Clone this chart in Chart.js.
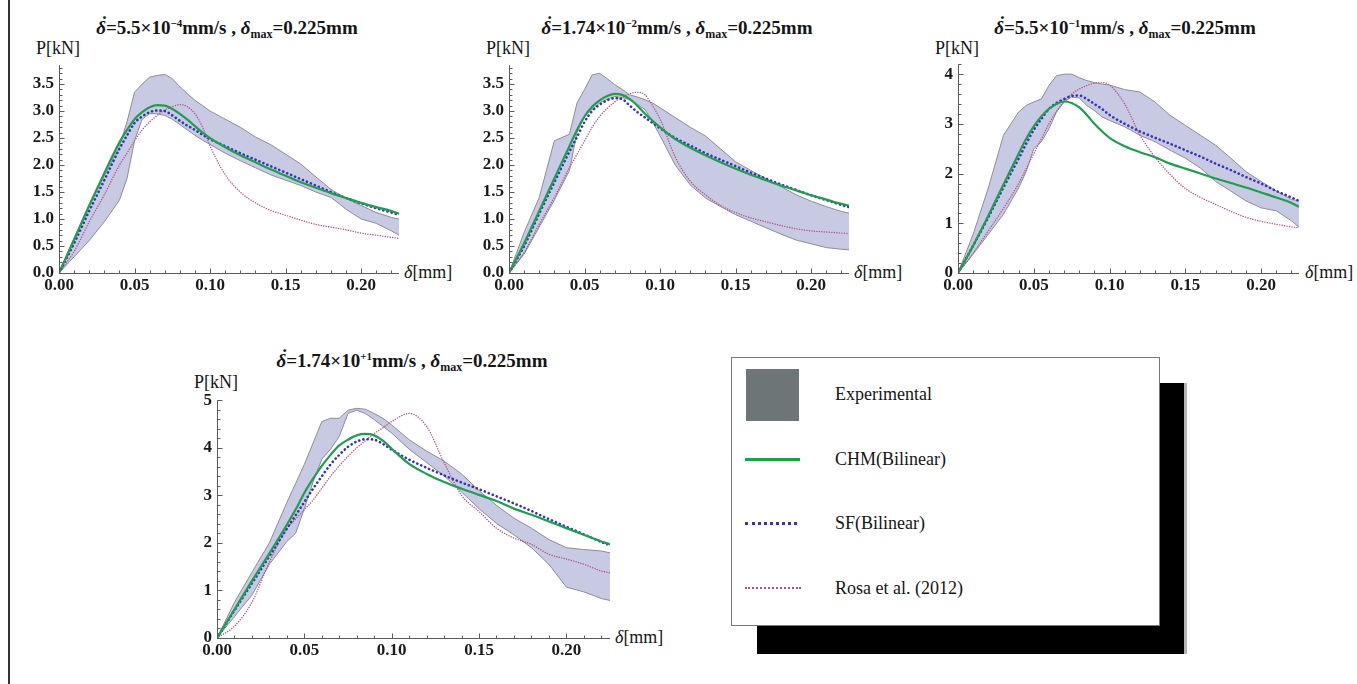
<!DOCTYPE html>
<html>
<head>
<meta charset="utf-8">
<script src="https://cdn.jsdelivr.net/npm/chart.js@4.4.1/dist/chart.umd.min.js"></script>
<style>
  body{margin:0;background:#fff;width:1357px;height:684px;overflow:hidden;position:relative;
       font-family:'Liberation Serif','Times New Roman',serif;color:#151515}
  canvas{position:absolute}
  .title{position:absolute;font-weight:bold;font-size:19px;white-space:nowrap;transform:translate(-50%,-50%);line-height:1}
  .title sup{font-size:11px;line-height:0;vertical-align:7px}
  .title sub{font-size:12px;line-height:0;vertical-align:-4px}
  .dd{position:relative;display:inline-block}
  .dd::after{content:'\02D9';position:absolute;left:5px;top:-5px;font-style:normal;font-weight:bold}
  .lab{position:absolute;font-size:18px;white-space:nowrap;transform:translateY(-50%);line-height:1}
  #edge{position:absolute;left:8px;top:0;width:2px;height:684px;background:#333}
  #shadow{position:absolute;left:757px;top:383px;width:427px;height:271px;background:#000;border-right:3px solid #b4b4b4}
  #legend{position:absolute;left:731px;top:357px;width:429px;height:269px;background:#fff;border:1px solid #777;box-sizing:border-box}
  .sw{position:absolute}
  .ltext{position:absolute;left:835px;font-size:18px;transform:translateY(-50%);white-space:nowrap}
</style>
</head>
<body>
<div id="edge"></div>

<div class="title" style="left:227px;top:27px"><i class="dd">δ</i>=5.5×10<sup>−4</sup>mm/s , <i>δ</i><sub>max</sub>=0.225mm</div>
<div class="title" style="left:677px;top:27px"><i class="dd">δ</i>=1.74×10<sup>−2</sup>mm/s , <i>δ</i><sub>max</sub>=0.225mm</div>
<div class="title" style="left:1125px;top:27px"><i class="dd">δ</i>=5.5×10<sup>−1</sup>mm/s , <i>δ</i><sub>max</sub>=0.225mm</div>
<div class="title" style="left:412px;top:360px"><i class="dd">δ</i>=1.74×10<sup>+1</sup>mm/s , <i>δ</i><sub>max</sub>=0.225mm</div>

<div class="lab" style="left:36px;top:48px">P[kN]</div>
<div class="lab" style="left:486px;top:48px">P[kN]</div>
<div class="lab" style="left:935px;top:48px">P[kN]</div>
<div class="lab" style="left:194px;top:382px">P[kN]</div>
<div class="lab" style="left:404px;top:272px"><i>δ</i>[mm]</div>
<div class="lab" style="left:854px;top:272px"><i>δ</i>[mm]</div>
<div class="lab" style="left:1305px;top:272px"><i>δ</i>[mm]</div>
<div class="lab" style="left:615px;top:637px"><i>δ</i>[mm]</div>

<div id="shadow"></div>
<div id="legend"></div>
<div class="sw" style="left:746px;top:369px;width:53px;height:52px;background:#6e7576"></div>
<div class="sw" style="left:745px;top:458px;width:55px;height:3px;background:#1f9e4f"></div>
<div class="sw" style="left:745px;top:522px;width:52px;border-top:3px dotted #3434b8"></div>
<div class="sw" style="left:745px;top:587px;width:56px;border-top:2px dotted #a8507f"></div>
<div class="ltext" style="top:394px">Experimental</div>
<div class="ltext" style="top:459px">CHM(Bilinear)</div>
<div class="ltext" style="top:523px">SF(Bilinear)</div>
<div class="ltext" style="top:588px">Rosa et al. (2012)</div>

<script>
// displacement samples [mm], shared by every panel
const X = [0, 0.01, 0.02, 0.03, 0.04, 0.045, 0.05, 0.055, 0.06, 0.065, 0.07, 0.075, 0.08, 0.085, 0.09, 0.095, 0.1,
           0.11, 0.12, 0.13, 0.14, 0.15, 0.16, 0.17, 0.18, 0.19, 0.2, 0.21, 0.22, 0.225];

// panel 1: 5.5e-4 mm/s  (load in kN)
const up1   = [0, 0.65, 1.25, 1.8, 2.35, 2.8, 3.35, 3.5, 3.63, 3.66, 3.68, 3.6, 3.45, 3.32, 3.2, 3.1, 3.0, 2.85, 2.7, 2.52, 2.38, 2.2, 2.02, 1.78, 1.55, 1.38, 1.25, 1.12, 1.03, 1.0];
const lo1   = [0, 0.3, 0.6, 0.95, 1.35, 1.75, 2.45, 2.85, 2.95, 2.95, 2.92, 2.85, 2.75, 2.65, 2.55, 2.46, 2.38, 2.22, 2.08, 1.95, 1.82, 1.72, 1.62, 1.5, 1.4, 1.18, 1.0, 0.92, 0.78, 0.7];
const chm1  = [0, 0.62, 1.25, 1.85, 2.42, 2.65, 2.85, 2.98, 3.07, 3.11, 3.1, 3.04, 2.95, 2.84, 2.72, 2.6, 2.5, 2.33, 2.18, 2.05, 1.92, 1.8, 1.68, 1.58, 1.48, 1.39, 1.3, 1.22, 1.15, 1.1];
const sf1   = [0, 0.55, 1.15, 1.72, 2.3, 2.55, 2.78, 2.9, 2.98, 3.01, 3.0, 2.92, 2.82, 2.73, 2.65, 2.56, 2.48, 2.35, 2.22, 2.1, 1.98, 1.86, 1.74, 1.62, 1.5, 1.39, 1.29, 1.2, 1.12, 1.08];
const rosa1 = [0, 0.4, 0.95, 1.45, 2.0, 2.22, 2.45, 2.65, 2.8, 2.92, 3.02, 3.08, 3.12, 3.08, 2.95, 2.7, 2.35, 1.82, 1.5, 1.3, 1.16, 1.07, 0.98, 0.9, 0.85, 0.8, 0.74, 0.7, 0.66, 0.64];

// panel 2: 1.74e-2 mm/s
const up2   = [0, 0.75, 1.4, 2.45, 2.57, 3.15, 3.4, 3.67, 3.7, 3.6, 3.49, 3.4, 3.3, 3.26, 3.21, 3.15, 3.06, 2.88, 2.7, 2.54, 2.3, 2.06, 1.9, 1.75, 1.6, 1.45, 1.33, 1.23, 1.14, 1.11];
const lo2   = [0, 0.35, 0.85, 1.35, 1.9, 2.6, 2.9, 3.03, 3.15, 3.22, 3.27, 3.25, 3.21, 3.12, 3.03, 2.8, 2.54, 2.0, 1.63, 1.39, 1.23, 1.08, 0.96, 0.84, 0.72, 0.61, 0.54, 0.47, 0.44, 0.43];
const chm2  = [0, 0.55, 1.15, 1.75, 2.35, 2.65, 2.9, 3.08, 3.2, 3.28, 3.32, 3.3, 3.22, 3.1, 2.95, 2.82, 2.7, 2.48, 2.32, 2.18, 2.05, 1.93, 1.82, 1.72, 1.62, 1.53, 1.44, 1.36, 1.28, 1.25];
const sf2   = [0, 0.5, 1.1, 1.68, 2.25, 2.52, 2.8, 3.0, 3.12, 3.2, 3.24, 3.22, 3.1, 2.98, 2.88, 2.78, 2.68, 2.5, 2.36, 2.22, 2.1, 1.98, 1.86, 1.75, 1.64, 1.54, 1.44, 1.35, 1.26, 1.22];
const rosa2 = [0, 0.38, 0.9, 1.4, 1.95, 2.2, 2.45, 2.7, 2.9, 3.05, 3.17, 3.26, 3.32, 3.35, 3.3, 3.1, 2.85, 2.15, 1.7, 1.45, 1.25, 1.12, 1.02, 0.95, 0.88, 0.82, 0.78, 0.76, 0.74, 0.73];

// panel 3: 5.5e-1 mm/s
const up3   = [0, 0.78, 1.71, 2.77, 3.24, 3.37, 3.44, 3.5, 3.77, 3.97, 4.0, 4.0, 3.93, 3.87, 3.83, 3.8, 3.78, 3.69, 3.64, 3.44, 3.17, 2.97, 2.77, 2.57, 2.31, 2.04, 1.84, 1.65, 1.48, 1.45];
const lo3   = [0, 0.38, 0.78, 1.18, 1.71, 2.04, 2.5, 2.64, 2.9, 3.24, 3.44, 3.54, 3.52, 3.37, 3.27, 3.14, 3.07, 2.94, 2.77, 2.64, 2.47, 2.31, 2.11, 1.84, 1.65, 1.45, 1.31, 1.25, 1.05, 0.92];
const chm3  = [0, 0.55, 1.15, 1.78, 2.4, 2.7, 2.95, 3.15, 3.3, 3.4, 3.45, 3.42, 3.33, 3.18, 3.0, 2.85, 2.72, 2.55, 2.43, 2.33, 2.2, 2.1, 2.0, 1.9, 1.81, 1.72, 1.62, 1.52, 1.41, 1.33];
const sf3   = [0, 0.55, 1.12, 1.72, 2.3, 2.6, 2.88, 3.1, 3.3, 3.42, 3.5, 3.56, 3.57, 3.5, 3.4, 3.3, 3.18, 3.0, 2.85, 2.72, 2.6, 2.47, 2.34, 2.2, 2.07, 1.93, 1.8, 1.65, 1.52, 1.45];
const rosa3 = [0, 0.4, 0.85, 1.3, 1.8, 2.1, 2.4, 2.7, 3.0, 3.25, 3.45, 3.6, 3.7, 3.77, 3.82, 3.83, 3.78, 3.4, 2.78, 2.33, 1.98, 1.7, 1.52, 1.38, 1.24, 1.12, 1.04, 0.98, 0.93, 0.91];

// panel 4: 1.74e+1 mm/s
const up4   = [0, 0.75, 1.38, 2.0, 2.85, 3.25, 3.65, 4.1, 4.55, 4.62, 4.62, 4.79, 4.83, 4.81, 4.72, 4.62, 4.48, 4.17, 3.93, 3.72, 3.45, 3.1, 2.79, 2.52, 2.31, 2.07, 1.9, 1.86, 1.83, 1.79];
const lo4   = [0, 0.45, 0.9, 1.55, 2.03, 2.2, 2.72, 3.28, 3.76, 3.97, 4.24, 4.72, 4.79, 4.72, 4.59, 4.45, 4.31, 3.97, 3.69, 3.41, 3.07, 2.72, 2.41, 2.17, 1.9, 1.55, 1.07, 0.97, 0.83, 0.79];
const chm4  = [0, 0.6, 1.2, 1.78, 2.38, 2.7, 3.05, 3.35, 3.62, 3.85, 4.05, 4.17, 4.26, 4.29, 4.26, 4.15, 3.98, 3.66, 3.45, 3.28, 3.14, 3.01, 2.88, 2.72, 2.59, 2.45, 2.31, 2.17, 2.03, 1.97];
const sf4   = [0, 0.58, 1.15, 1.72, 2.3, 2.58, 2.86, 3.14, 3.4, 3.65, 3.85, 4.02, 4.13, 4.18, 4.17, 4.08, 3.96, 3.75, 3.58, 3.42, 3.27, 3.13, 2.98, 2.83, 2.67, 2.5, 2.34, 2.18, 2.02, 1.95];
const rosa4 = [0, 0.25, 0.75, 1.6, 2.3, 2.5, 2.7, 2.9, 3.15, 3.4, 3.62, 3.82, 4.0, 4.15, 4.3, 4.42, 4.55, 4.72, 4.45, 3.69, 3.0, 2.66, 2.31, 2.1, 1.97, 1.76, 1.66, 1.55, 1.41, 1.37];

const BAND_FILL = '#c8c9e2', BAND_EDGE = '#8d8d95';
const GREEN = '#1f9e4f', BLUE = '#3434b8', PINK = '#b0558a';
const AXIS = '#5a5a5a';

// plot area of each panel in page pixels
const panels = [
  {area:{left:59,  right:399,  top:62,  bottom:273}, yMax:3.85, yStep:0.5, yMinor:0.1, yDigits:1, up:up1, lo:lo1, chm:chm1, sf:sf1, rosa:rosa1},
  {area:{left:509, right:849,  top:62,  bottom:273}, yMax:3.85, yStep:0.5, yMinor:0.1, yDigits:1, up:up2, lo:lo2, chm:chm2, sf:sf2, rosa:rosa2},
  {area:{left:958, right:1299, top:61,  bottom:273}, yMax:4.2,  yStep:1,   yMinor:0.2, yDigits:0, up:up3, lo:lo3, chm:chm3, sf:sf3, rosa:rosa3},
  {area:{left:217, right:610,  top:397, bottom:638}, yMax:5,    yStep:1,   yMinor:0.2, yDigits:0, up:up4, lo:lo4, chm:chm4, sf:sf4, rosa:rosa4}
];
const PAD_L = 50, PAD_B = 26, PAD_T = 12, PAD_R = 6;

// mathematica-like axes: lines through the origin with inward major/minor ticks
const axisTicks = {
  id: 'axisTicks',
  afterDatasetsDraw(chart, args, o){
    const {ctx, chartArea:a, scales:{x, y}} = chart;
    const x0 = Math.round(x.getPixelForValue(0)) + 0.5, y0 = Math.round(y.getPixelForValue(0)) + 0.5;
    ctx.save();
    ctx.strokeStyle = AXIS; ctx.lineWidth = 1;
    ctx.beginPath();
    ctx.moveTo(a.left, y0); ctx.lineTo(a.right, y0);
    ctx.moveTo(x0, a.top); ctx.lineTo(x0, y0);
    const nx = Math.floor(x.max / o.xMinor + 1e-6);
    for(let i=1;i<=nx;i++){
      const px = Math.round(x.getPixelForValue(i*o.xMinor)) + 0.5;
      const len = (i % Math.round(o.xMajor/o.xMinor) === 0) ? 5 : 3;
      ctx.moveTo(px, y0); ctx.lineTo(px, y0 - len);
    }
    const ny = Math.floor(y.max / o.yMinor + 1e-6);
    for(let i=1;i<=ny;i++){
      const py = Math.round(y.getPixelForValue(i*o.yMinor)) + 0.5;
      const len = (i % Math.round(o.yMajor/o.yMinor) === 0) ? 5 : 3;
      ctx.moveTo(x0, py); ctx.lineTo(x0 + len, py);
    }
    ctx.stroke();
    ctx.restore();
  }
};

function pts(ys){ return X.map((x,i)=>({x:x, y:ys[i]})); }

const tickFont = {family:"'Liberation Serif','Times New Roman',serif", size:17, weight:'bold'};

panels.forEach(p=>{
  const cv = document.createElement('canvas');
  const w = p.area.right - p.area.left + PAD_L + PAD_R;
  const h = p.area.bottom - p.area.top + PAD_T + PAD_B;
  cv.width = w; cv.height = h;
  cv.style.left = (p.area.left - PAD_L) + 'px';
  cv.style.top = (p.area.top - PAD_T) + 'px';
  cv.style.width = w + 'px'; cv.style.height = h + 'px';
  document.body.appendChild(cv);

  new Chart(cv, {
    type: 'line',
    data: {
      datasets: [
        {data: pts(p.up), borderColor: BAND_EDGE, borderWidth: 1, backgroundColor: BAND_FILL, fill: '+1', tension: 0, order: 5},
        {data: pts(p.lo), borderColor: BAND_EDGE, borderWidth: 1, fill: false, tension: 0, order: 6},
        {data: pts(p.rosa), borderColor: PINK, borderWidth: 1.4, borderDash: [0.1, 2.4], borderCapStyle: 'round', fill: false, cubicInterpolationMode: 'monotone', order: 3},
        {data: pts(p.sf), borderColor: BLUE, borderWidth: 2.6, borderDash: [0.1, 4.2], borderCapStyle: 'round', fill: false, cubicInterpolationMode: 'monotone', order: 2},
        {data: pts(p.chm), borderColor: GREEN, borderWidth: 2.2, fill: false, cubicInterpolationMode: 'monotone', order: 1}
      ]
    },
    options: {
      responsive: false,
      animation: false,
      devicePixelRatio: 1,
      events: [],
      layout: {padding: {left: 0, right: PAD_R, top: PAD_T, bottom: 0}},
      elements: {point: {radius: 0}},
      scales: {
        x: {
          type: 'linear', min: 0, max: 0.225,
          grid: {display: false, drawTicks: false}, border: {display: false},
          ticks: {stepSize: 0.05, includeBounds: false, padding: 2, color: '#1a1a1a', font: tickFont,
                  maxRotation: 0, autoSkip: false, callback: v => v.toFixed(2)},
          afterFit: s => { s.height = PAD_B; }
        },
        y: {
          type: 'linear', min: 0, max: p.yMax,
          grid: {display: false, drawTicks: false}, border: {display: false},
          ticks: {stepSize: p.yStep, includeBounds: false, padding: 5, color: '#1a1a1a', font: tickFont,
                  autoSkip: false, callback: v => v.toFixed(p.yDigits)},
          afterFit: s => { s.width = PAD_L; }
        }
      },
      plugins: {
        legend: {display: false},
        tooltip: {enabled: false},
        filler: {drawTime: 'beforeDatasetsDraw'},
        axisTicks: {xMajor: 0.05, xMinor: 0.01, yMajor: p.yStep, yMinor: p.yMinor}
      }
    },
    plugins: [axisTicks]
  });
});
</script>
</body>
</html>
